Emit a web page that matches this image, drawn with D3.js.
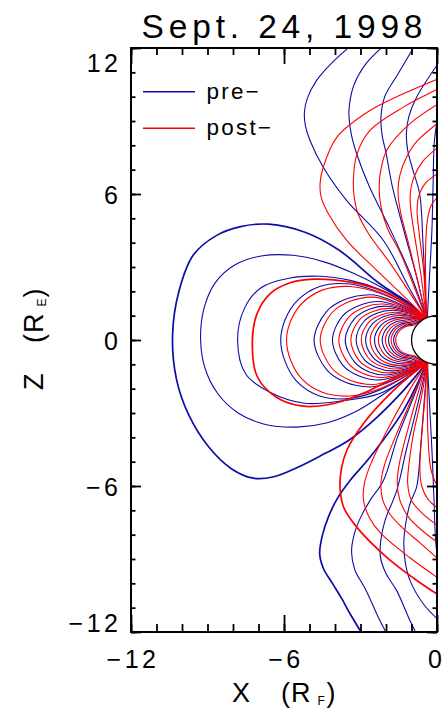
<!DOCTYPE html>
<html><head><meta charset="utf-8">
<script src="https://cdn.jsdelivr.net/npm/d3@7"></script>
<style>
body{margin:0;background:#fff;}
text{font-family:"Liberation Sans",Arial,Helvetica,sans-serif;fill:#000;}
</style>
</head><body>
<svg id="chart" width="445" height="713"></svg>
<script>
// ---------------- data ----------------
const title = "Sept. 24, 1998";
const xTicks = [-12, -6, 0];
const yTicks = [12, 6, 0, -6, -12];
const legendLabels = ["pre\u2212", "post\u2212"];
const xTitle = ["X", "(R", "F", ")"];
const yTitle = ["Z", "(R", "E", ")"];

// "pre-" closed field lines (X, Z in Earth radii), north foot -> equator -> south foot
const preClosed = [
  [[-0.42,0.88],[-1.06,1.49],[-2.24,2.31],[-3.85,3.7],[-5.15,4.42],[-6.6,4.76],[-7.7,4.66],[-8.64,4.3],[-9.55,3.5],[-10.12,2.0],[-10.37,0.2],[-10.22,-1.6],[-9.75,-3.05],[-8.95,-4.4],[-8.05,-5.3],[-7.2,-5.68],[-6.4,-5.62],[-5.5,-5.25],[-4.46,-4.7],[-3.5,-4.15],[-2.63,-3.44],[-1.32,-2.08],[-0.38,-0.9]],
  [[-0.42,0.88],[-1.06,1.46],[-2.24,2.2],[-3.3,2.75],[-4.4,3.2],[-5.64,3.48],[-6.9,3.45],[-7.9,3.1],[-8.7,2.35],[-9.15,1.25],[-9.27,0],[-9.1,-1.15],[-8.6,-2.2],[-7.8,-3.0],[-6.8,-3.45],[-5.5,-3.58],[-4.3,-3.4],[-3.2,-2.95],[-2.2,-2.3],[-1.32,-1.66],[-0.38,-0.9]],
  [[-0.42,0.88],[-1.06,1.44],[-2.24,2.08],[-3.4,2.45],[-4.6,2.62],[-5.76,2.55],[-6.9,2.15],[-7.55,1.3],[-7.82,0],[-7.5,-1.4],[-6.55,-2.15],[-5.2,-2.6],[-3.7,-2.5],[-2.24,-2.2],[-1.06,-1.46],[-0.38,-0.9]],
  [[-0.42,0.88],[-1.06,1.34],[-2.24,1.95],[-3.4,2.3],[-4.6,2.2],[-5.5,1.6],[-5.95,0.85],[-6.13,0],[-5.95,-0.9],[-5.5,-1.7],[-4.6,-2.3],[-3.4,-2.4],[-2.24,-2.05],[-1.06,-1.38],[-0.38,-0.9]],
  [[-0.42,0.88],[-1.06,1.28],[-2.24,1.8],[-2.65,1.86],[-3.59,1.67],[-4.34,1.16],[-4.82,0],[-4.34,-1.21],[-3.59,-1.74],[-2.65,-1.93],[-2.24,-1.87],[-1.06,-1.33],[-0.38,-0.9]],
  [[-0.42,0.88],[-1.06,1.22],[-2.25,1.58],[-3.05,1.42],[-3.7,0.99],[-4.1,0],[-3.7,-1.03],[-3.05,-1.48],[-2.25,-1.64],[-1.06,-1.27],[-0.38,-0.9]],
  [[-0.42,0.88],[-1.06,1.16],[-1.98,1.39],[-2.68,1.25],[-3.24,0.87],[-3.6,0],[-3.24,-0.9],[-2.68,-1.3],[-1.98,-1.44],[-1.06,-1.21],[-0.38,-0.9]],
  [[-0.42,0.88],[-1.06,1.1],[-1.74,1.22],[-2.36,1.1],[-2.86,0.77],[-3.17,0],[-2.86,-0.8],[-2.36,-1.14],[-1.74,-1.27],[-1.06,-1.14],[-0.38,-0.9]],
  [[-0.42,0.88],[-1.06,1.01],[-1.54,1.08],[-2.08,0.97],[-2.52,0.68],[-2.8,0],[-2.52,-0.7],[-2.08,-1.01],[-1.54,-1.12],[-1.06,-1.05],[-0.38,-0.9]],
  [[-0.42,0.88],[-0.95,0.93],[-1.35,0.94],[-1.82,0.85],[-2.21,0.59],[-2.45,0],[-2.21,-0.62],[-1.82,-0.88],[-1.35,-0.98],[-0.95,-0.97],[-0.38,-0.9]],
  [[-0.42,0.88],[-0.85,0.88],[-1.18,0.83],[-1.6,0.75],[-1.94,0.52],[-2.15,0],[-1.94,-0.54],[-1.6,-0.78],[-1.18,-0.86],[-0.85,-0.92],[-0.38,-0.9]],
  [[-0.42,0.88],[-0.75,0.83],[-1.04,0.73],[-1.41,0.66],[-1.71,0.46],[-1.9,0],[-1.71,-0.48],[-1.41,-0.69],[-1.04,-0.76],[-0.75,-0.87],[-0.38,-0.9]],
  [[-0.42,0.88],[-0.7,0.77],[-0.93,0.66],[-1.27,0.59],[-1.53,0.41],[-1.7,0],[-1.53,-0.43],[-1.27,-0.61],[-0.93,-0.68],[-0.7,-0.8],[-0.38,-0.9]]
];
// "pre-" open lines, north lobe (foot -> plot edge)
const preOpenNorth = [
  [[-0.42,0.88],[-1.12,2.2],[-2.1,4.09],[-3.54,5.73],[-4.46,7.1],[-4.98,8.2],[-5.16,8.8],[-5.2,9.36],[-5.08,9.95],[-4.72,10.67],[-4.16,11.35],[-3.15,12.3]],
  [[-0.42,0.88],[-1.0,2.6],[-1.95,4.8],[-2.65,6.3],[-3.1,7.5],[-3.35,8.4],[-3.45,9.16],[-3.43,9.7],[-3.25,10.5],[-2.75,11.4],[-1.85,12.3]],
  [[-0.42,0.88],[-0.8,2.6],[-1.3,4.5],[-1.75,6.3],[-2.0,7.7],[-2.15,8.4],[-2.2,9.1],[-2.05,10.0],[-1.55,10.9],[-0.76,12.3]],
  [[-0.42,0.88],[-0.47,2.2],[-0.55,4.0],[-0.68,6.0],[-0.95,7.0],[-1.15,7.8],[-1.2,8.5],[-1.1,9.2],[-0.8,9.98],[0.2,11.6]],
  [[-0.38,0.9],[-0.3,2.5],[-0.2,4.5],[-0.15,6.5],[-0.1,8.2],[0.1,9.6]]
];
// "pre-" open lines, south lobe
const preOpenSouth = [
  [[-0.38,-0.9],[-1.32,-2.9],[-2.63,-4.82],[-3.41,-5.77],[-3.9,-6.5],[-4.25,-7.25],[-4.5,-8.05],[-4.6,-8.79],[-4.45,-9.4],[-4.1,-10.0],[-3.75,-10.6],[-3.41,-11.25],[-2.8,-12.3]],
  [[-0.38,-0.9],[-0.9,-2.3],[-1.55,-4.0],[-2.1,-5.77],[-2.63,-6.6],[-3.0,-7.3],[-3.25,-8.0],[-3.35,-8.72],[-3.22,-9.45],[-2.8,-10.25],[-2.24,-11.53],[-1.85,-12.3]],
  [[-0.38,-0.9],[-0.7,-2.4],[-1.2,-4.5],[-1.58,-6.19],[-2.04,-7.42],[-2.2,-8.2],[-2.22,-8.9],[-2.0,-9.6],[-1.58,-10.3],[-1.06,-11.53],[-0.7,-12.3]],
  [[-0.38,-0.9],[-0.5,-2.5],[-0.65,-4.5],[-0.8,-6.05],[-1.05,-6.7],[-1.22,-7.5],[-1.3,-8.3],[-1.25,-9.1],[-1.06,-9.88],[-0.54,-10.84],[0.15,-11.6]],
  [[-0.38,-0.9],[-0.3,-2.5],[-0.2,-4.5],[-0.12,-6.5],[-0.05,-8.3],[0.1,-9.6]]
];

// "post-" closed field lines
const postClosed = [
  [[-0.42,0.88],[-1.06,1.4],[-2.24,2.05],[-3.4,2.38],[-4.85,2.5],[-5.76,2.35],[-6.55,1.9],[-7.05,1.1],[-7.24,0],[-7.05,-1.5],[-6.3,-2.35],[-5.24,-2.72],[-4.0,-2.6],[-2.8,-2.15],[-1.58,-1.5],[-0.38,-0.9]],
  [[-0.42,0.88],[-1.06,1.33],[-2.24,1.92],[-3.4,2.2],[-4.5,2.05],[-5.3,1.5],[-5.75,0.75],[-5.9,0],[-5.75,-0.8],[-5.3,-1.6],[-4.5,-2.15],[-3.4,-2.3],[-2.24,-2.0],[-1.06,-1.38],[-0.38,-0.9]],
  [[-0.42,0.88],[-1.06,1.25],[-2.24,1.72],[-2.52,1.76],[-3.41,1.59],[-4.13,1.11],[-4.58,0],[-4.13,-1.15],[-3.41,-1.65],[-2.52,-1.83],[-2.24,-1.79],[-1.06,-1.3],[-0.38,-0.9]],
  [[-0.42,0.88],[-1.06,1.19],[-2.12,1.48],[-2.87,1.34],[-3.47,0.93],[-3.85,0],[-3.47,-0.97],[-2.87,-1.39],[-2.12,-1.54],[-1.06,-1.24],[-0.38,-0.9]],
  [[-0.42,0.88],[-1.06,1.13],[-1.86,1.3],[-2.52,1.17],[-3.05,0.82],[-3.38,0],[-3.05,-0.85],[-2.52,-1.22],[-1.86,-1.35],[-1.06,-1.18],[-0.38,-0.9]],
  [[-0.42,0.88],[-1.06,1.06],[-1.63,1.14],[-2.21,1.03],[-2.68,0.72],[-2.97,0],[-2.68,-0.75],[-2.21,-1.07],[-1.63,-1.19],[-1.06,-1.1],[-0.38,-0.9]],
  [[-0.42,0.88],[-1.0,0.97],[-1.44,1.01],[-1.95,0.91],[-2.36,0.63],[-2.62,0],[-2.36,-0.66],[-1.95,-0.95],[-1.44,-1.05],[-1.0,-1.01],[-0.38,-0.9]],
  [[-0.42,0.88],[-0.9,0.9],[-1.26,0.89],[-1.71,0.8],[-2.07,0.56],[-2.3,0],[-2.07,-0.58],[-1.71,-0.83],[-1.26,-0.92],[-0.9,-0.94],[-0.38,-0.9]],
  [[-0.42,0.88],[-0.8,0.86],[-1.11,0.78],[-1.5,0.7],[-1.82,0.49],[-2.02,0],[-1.82,-0.51],[-1.5,-0.73],[-1.11,-0.81],[-0.8,-0.9],[-0.38,-0.9]],
  [[-0.42,0.88],[-0.72,0.8],[-0.99,0.69],[-1.34,0.63],[-1.62,0.44],[-1.8,0],[-1.62,-0.45],[-1.34,-0.65],[-0.99,-0.72],[-0.72,-0.84],[-0.38,-0.9]],
  [[-0.42,0.88],[-0.66,0.76],[-0.89,0.62],[-1.21,0.56],[-1.46,0.39],[-1.62,0],[-1.46,-0.41],[-1.21,-0.58],[-0.89,-0.65],[-0.66,-0.8],[-0.38,-0.9]]
];
// "post-" open lines, north lobe
const postOpenNorth = [
  [[-0.42,0.88],[-1.2,1.7],[-2.36,2.86],[-3.54,4.09],[-4.26,5.19],[-4.55,5.9],[-4.58,6.5],[-4.46,7.1],[-3.93,8.33],[-2.63,9.43],[-1.32,10.12],[0.2,10.8]],
  [[-0.42,0.88],[-1.1,2.0],[-1.8,3.1],[-2.7,4.4],[-3.1,5.2],[-3.25,5.9],[-3.28,6.56],[-3.15,7.6],[-2.63,8.61],[-1.32,9.57],[0.2,10.4]],
  [[-0.42,0.88],[-0.9,2.2],[-1.45,3.6],[-1.95,4.6],[-2.2,5.5],[-2.27,6.3],[-2.2,7.0],[-1.97,7.8],[-1.06,8.89],[0.2,9.8]],
  [[-0.42,0.88],[-0.75,2.4],[-1.15,4.1],[-1.42,5.2],[-1.53,6.1],[-1.45,6.8],[-1.2,7.5],[-0.8,8.15],[0.2,9.05]],
  [[-0.42,0.88],[-0.62,2.6],[-0.88,4.3],[-1.03,5.4],[-1.05,6.0],[-0.92,6.65],[-0.55,7.35],[0.2,8.05]],
  [[-0.42,0.88],[-0.52,2.8],[-0.7,4.4],[-0.78,5.3],[-0.72,5.9],[-0.45,6.45],[0.2,6.95]],
  [[-0.4,0.9],[-0.44,2.2],[-0.45,3.6],[-0.38,4.9],[-0.22,5.55],[0.15,6.0]]
];
// "post-" open lines, south lobe
const postOpenSouth = [
  [[-0.38,-0.9],[-1.71,-2.08],[-2.89,-3.44],[-3.54,-4.54],[-3.75,-5.3],[-3.8,-6.1],[-3.65,-6.9],[-3.1,-7.75],[-1.97,-8.93],[-0.9,-9.8],[0.2,-10.58]],
  [[-0.38,-0.9],[-1.1,-2.1],[-2.0,-3.8],[-2.6,-5.1],[-2.85,-5.9],[-2.88,-6.6],[-2.65,-7.3],[-2.2,-7.95],[-1.06,-8.95],[0.2,-9.9]],
  [[-0.38,-0.9],[-0.9,-2.2],[-1.6,-3.9],[-2.05,-5.1],[-2.2,-5.9],[-2.12,-6.6],[-1.85,-7.15],[-1.38,-7.69],[-0.6,-8.4],[0.2,-9.15]],
  [[-0.38,-0.9],[-0.75,-2.2],[-1.2,-3.9],[-1.48,-5.1],[-1.56,-5.9],[-1.45,-6.6],[-1.1,-7.3],[-0.5,-7.9],[0.2,-8.45]],
  [[-0.38,-0.9],[-0.6,-2.3],[-0.95,-4.0],[-1.1,-5.1],[-1.15,-5.9],[-1.0,-6.6],[-0.5,-7.2],[0.2,-7.75]],
  [[-0.38,-0.9],[-0.47,-2.3],[-0.62,-4.2],[-0.67,-5.3],[-0.6,-6.0],[-0.35,-6.55],[0.2,-7.05]],
  [[-0.36,-0.92],[-0.38,-2.3],[-0.35,-4.0],[-0.22,-5.4],[0.15,-6.3]]
];

// ---------------- layout ----------------
const L = 131, R = 437, T = 48, B = 632;
const blue = "#0d0da6", red = "#ff0000";
const svg = d3.select("#chart");
const x = d3.scaleLinear().domain([-12, 0]).range([L, R]);
const y = d3.scaleLinear().domain([-12, 12]).range([B, T]);

svg.append("defs").append("clipPath").attr("id", "plotclip")
  .append("rect").attr("x", L).attr("y", T).attr("width", R - L).attr("height", B - T);

const plot = svg.append("g").attr("clip-path", "url(#plotclip)");
const fieldLine = d3.line().x(d => x(d[0])).y(d => y(d[1])).curve(d3.curveCatmullRom.alpha(0.5));

function draw(data, color, heavyIndex) {
  plot.append("g").selectAll("path").data(data).join("path")
    .attr("d", fieldLine).attr("fill", "none").attr("stroke", color)
    .attr("stroke-width", (d, i) => i === heavyIndex ? 1.7 : 1.1);
}
draw(preClosed, blue, 0);
draw(preOpenNorth, blue, -1);
draw(preOpenSouth, blue, 0);
draw(postClosed, red, 0);
draw(postOpenNorth, red, -1);
draw(postOpenSouth, red, 0);

// Earth
plot.append("ellipse")
  .attr("cx", x(0)).attr("cy", y(0))
  .attr("rx", x(1) - x(0)).attr("ry", y(0) - y(1))
  .attr("fill", "#fff").attr("stroke", "#000").attr("stroke-width", 1.3);

// ---------------- axes ----------------
const fmt = d => d < 0 ? "\u2212" + Math.abs(d) : String(d);
const minorX = d3.range(-12, 1, 1);
const minorY = d3.range(-12, 13, 1);
function styleAxis(g) {
  g.select(".domain").remove();
  g.selectAll(".tick line").attr("stroke", "#000").attr("stroke-width", 1.8);
}
// bottom
svg.append("g").attr("transform", `translate(0,${B})`)
  .call(d3.axisBottom(x).tickValues(minorX).tickSize(-8).tickFormat("")).call(styleAxis);
const gxb = svg.append("g").attr("transform", `translate(0,${B})`)
  .call(d3.axisBottom(x).tickValues(xTicks).tickSize(-17).tickFormat(fmt)).call(styleAxis);
gxb.selectAll(".tick text").attr("y", 36).attr("dy", 0)
  .style("font-size", "25px")
  .style("letter-spacing", d => d === 0 ? "0px" : "3.5px")
  .attr("dx", d => d === 0 ? -2.5 : 1.5);
// top
svg.append("g").attr("transform", `translate(0,${T})`)
  .call(d3.axisTop(x).tickValues(minorX).tickSize(-7).tickFormat("")).call(styleAxis);
svg.append("g").attr("transform", `translate(0,${T})`)
  .call(d3.axisTop(x).tickValues(xTicks).tickSize(-16).tickFormat("")).call(styleAxis);
// left
svg.append("g").attr("transform", `translate(${L},0)`)
  .call(d3.axisLeft(y).tickValues(minorY).tickSize(-4.5).tickFormat("")).call(styleAxis);
const gyl = svg.append("g").attr("transform", `translate(${L},0)`)
  .call(d3.axisLeft(y).tickValues(yTicks).tickSize(-10).tickFormat(fmt)).call(styleAxis);
gyl.selectAll(".tick text").attr("x", -9.5).attr("dy", "0.36em")
  .style("font-size", "25px").style("letter-spacing", "3.5px");
gyl.selectAll(".tick text").filter(d => d === 12).attr("dy", "0.92em");
gyl.selectAll(".tick text").filter(d => d === -12).attr("dy", "-0.02em");
// right
svg.append("g").attr("transform", `translate(${R},0)`)
  .call(d3.axisRight(y).tickValues(minorY).tickSize(-4.5).tickFormat("")).call(styleAxis);
svg.append("g").attr("transform", `translate(${R},0)`)
  .call(d3.axisRight(y).tickValues(yTicks).tickSize(-10).tickFormat("")).call(styleAxis);

// frame
svg.append("rect").attr("x", L).attr("y", T).attr("width", R - L).attr("height", B - T)
  .attr("fill", "none").attr("stroke", "#000").attr("stroke-width", 2);

// title
svg.append("text").attr("x", 141.5).attr("y", 37.5)
  .attr("textLength", 281).attr("lengthAdjust", "spacing")
  .style("font-size", "33.5px").text(title);

// legend
const legendColors = [blue, red];
const lg = svg.append("g");
legendLabels.forEach((lab, i) => {
  const ly = 91.7 + i * 36.6;
  lg.append("line").attr("x1", 143).attr("x2", 195).attr("y1", ly).attr("y2", ly)
    .attr("stroke", legendColors[i]).attr("stroke-width", 1.4);
  lg.append("text").attr("x", 206.5).attr("y", ly + 6.8)
    .style("font-size", "22.5px").style("letter-spacing", "2.2px").text(lab);
});

// x axis title
const xt = svg.append("text").attr("y", 701.5).style("font-size", "27px");
xt.append("tspan").attr("x", 232).text(xTitle[0]);
xt.append("tspan").attr("x", 281).style("letter-spacing", "1px").text(xTitle[1]);
xt.append("tspan").attr("x", 317.5).attr("dy", 3).style("font-size", "12px").text(xTitle[2]);
xt.append("tspan").attr("x", 326.5).attr("dy", -3).text(xTitle[3]);

// y axis title (rotated)
const yt = svg.append("text").attr("transform", "translate(43,390) rotate(-90)").style("font-size", "27px");
yt.append("tspan").attr("x", 0).text(yTitle[0]);
yt.append("tspan").attr("x", 47).style("letter-spacing", "1px").text(yTitle[1]);
yt.append("tspan").attr("x", 83.5).attr("dy", 3).style("font-size", "12px").text(yTitle[2]);
yt.append("tspan").attr("x", 92.5).attr("dy", -3).text(yTitle[3]);
</script>
</body></html>
